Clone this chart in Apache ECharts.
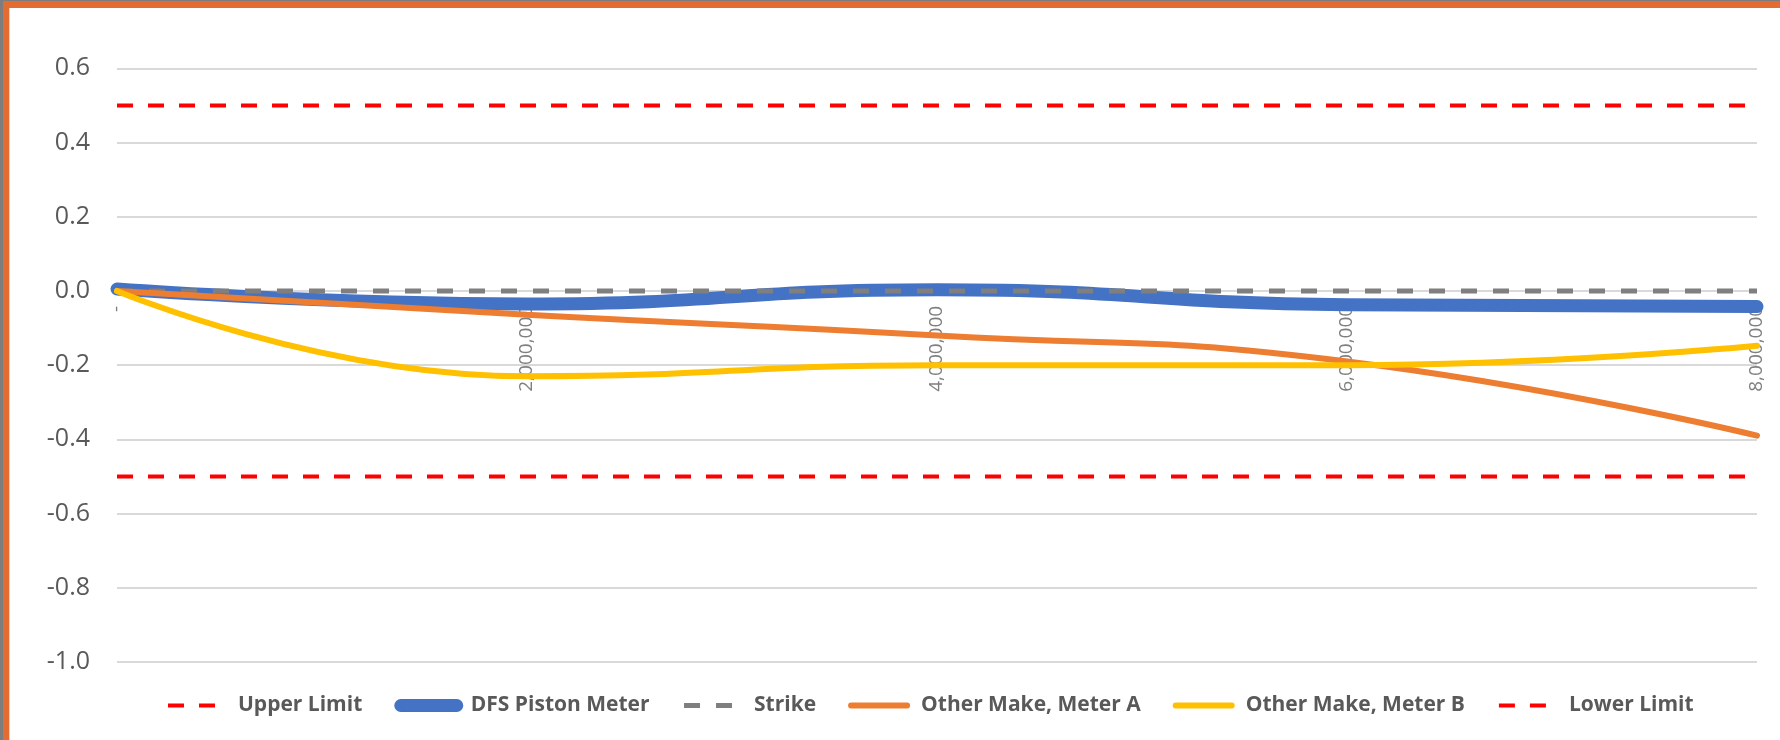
<!DOCTYPE html>
<html><head><meta charset="utf-8">
<script src="https://cdn.jsdelivr.net/npm/echarts@6/dist/echarts.min.js"></script>
<style>
html,body{margin:0;padding:0;width:1780px;height:740px;overflow:hidden;background:#fff}
#frame{position:absolute;left:0;top:0;width:1780px;height:740px;background:#7d7d7d}
#inner{position:absolute;left:3px;top:1px;right:0;bottom:0;background:#e36c33}
#white{position:absolute;left:9px;top:8px;right:0;bottom:0;background:#fff;border-left:1px solid #d4d4d4}
#chart{position:absolute;left:0;top:0;width:1780px;height:740px}
</style></head>
<body>
<div id="frame"><div id="inner"></div><div id="white"></div></div>
<div id="chart"></div>
<script>
// ---- data ----
const xValues = [0, 2000000, 4000000, 6000000, 8000000];
const xTickLabels = ['-', '2,000,000', '4,000,000', '6,000,000', '8,000,000'];
const yTickValues = [-1.0, -0.8, -0.6, -0.4, -0.2, 0.0, 0.2, 0.4, 0.6];
const yTickLabels = ['-1.0', '-0.8', '-0.6', '-0.4', '-0.2', '0.0', '0.2', '0.4', '0.6'];

const upperLimit = [0.5, 0.5, 0.5, 0.5, 0.5];
const dfsPiston = [0.005, -0.035, 0.003, -0.037, -0.042];
const strike = [0, 0, 0, 0, 0];
const meterA = [0.0, -0.064, -0.12, -0.19, -0.39];
const meterB = [0.0, -0.23, -0.2, -0.2, -0.148];
const lowerLimit = [-0.5, -0.5, -0.5, -0.5, -0.5];

const seriesNames = ['Upper Limit', 'DFS Piston Meter', 'Strike', 'Other Make, Meter A', 'Other Make, Meter B', 'Lower Limit'];

// ---- build ----
function pairs(vals) { return xValues.map((x, i) => [x, vals[i]]); }

const chart = echarts.init(document.getElementById('chart'), null, {renderer: 'canvas'});
const FONT = "'Open Sans', 'Noto Sans', sans-serif";

const styles = [
  {color: '#ff0000', width: 4, type: [16, 15], smooth: false},
  {color: '#4472c4', width: 13, type: 'solid', smooth: 0.5},
  {color: '#7f7f7f', width: 5, type: [16, 16], smooth: false},
  {color: '#ed7d31', width: 6, type: 'solid', smooth: 0.5},
  {color: '#ffc000', width: 6, type: 'solid', smooth: 0.5},
  {color: '#ff0000', width: 4, type: [16, 15], smooth: false}
];
const seriesValues = [upperLimit, dfsPiston, strike, meterA, meterB, lowerLimit];

const series = seriesNames.map((name, i) => {
  const s = styles[i];
  return {
    name: name, type: 'line', data: pairs(seriesValues[i]), smooth: s.smooth,
    symbol: 'none', showSymbol: false,
    lineStyle: {color: s.color, width: s.width, type: s.type, cap: s.type === 'solid' ? 'round' : 'butt'},
    itemStyle: {color: s.color},
    emphasis: {disabled: true},
    animation: false
  };
});

const legendData = seriesNames.map((name, i) => {
  const s = styles[i];
  return {
    name: name,
    itemStyle: {opacity: 0},
    lineStyle: {color: s.color, width: s.width, type: s.type, cap: s.type === 'solid' ? 'round' : 'butt', opacity: 1}
  };
});

const option = {
  animation: false,
  grid: {left: 117, right: 23, top: 68.3, bottom: 78, containLabel: false},
  xAxis: {
    type: 'value', min: 0, max: 8000000, interval: 2000000, offset: 0,
    axisLine: {show: false, onZero: false},
    axisTick: {show: false},
    splitLine: {show: false},
    axisLabel: {
      rotate: 90, margin: 5, fontSize: 19, color: '#7f7f7f', fontFamily: FONT,
      formatter: function (v) { const i = xValues.indexOf(v); return i >= 0 ? xTickLabels[i] : ''; }
    }
  },
  yAxis: {
    type: 'value', min: -1.0, max: 0.6, interval: 0.2,
    axisLine: {show: false, onZero: false}, axisTick: {show: false},
    splitLine: {show: true, lineStyle: {color: '#d9d9d9', width: 2}},
    axisLabel: {
      margin: 27, fontSize: 25, color: '#595959', fontFamily: FONT,
      formatter: function (v) {
        let best = 0, d = 1e9;
        yTickValues.forEach((t, i) => { if (Math.abs(t - v) < d) { d = Math.abs(t - v); best = i; } });
        return yTickLabels[best];
      }
    }
  },
  legend: {
    left: 161, top: 690,
    itemWidth: 56, itemHeight: 14, itemGap: 32,
    itemStyle: {opacity: 0},
    textStyle: {fontSize: 21, fontWeight: 'bold', color: '#595959', fontFamily: FONT, padding: [0, 0, 0, 9]},
    data: legendData
  },
  series: series
};
chart.setOption(option);
// place the horizontal axis where the value axis crosses zero (as in the original)
const zeroY = chart.convertToPixel({yAxisIndex: 0}, 0);
const bottomY = chart.convertToPixel({yAxisIndex: 0}, yTickValues[0]);
chart.setOption({xAxis: {offset: zeroY - bottomY}});
</script>
</body></html>
